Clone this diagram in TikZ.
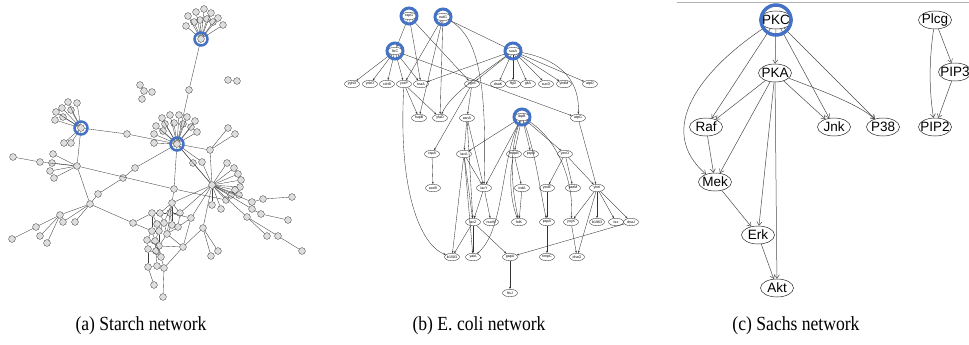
\documentclass[tikz,border=0pt]{standalone}
\usepackage{graphicx}
\usepackage{fontspec}
\setmainfont{Liberation Serif}
\newfontfamily\sachsfont{Liberation Sans}
\usetikzlibrary{shapes.geometric,arrows.meta}
\definecolor{ringblue}{RGB}{68,114,196}
\newcommand{\capbox}[1]{\scalebox{0.88}[1]{#1}}
\begin{document}
\begin{tikzpicture}[x=1pt,y=-1pt,
  sn/.style={circle,draw=black!75,fill=black!13,line width=0.35pt,minimum size=6.8pt,inner sep=0pt},
  sedge/.style={draw=black!75,line width=0.35pt},
  aring/.style={circle,draw=ringblue,line width=2.5pt,minimum size=13pt,inner sep=0pt},
  en/.style={ellipse,draw=black!80,line width=0.35pt,minimum width=15pt,minimum height=7.5pt,inner sep=0pt,
    label={[font=\sachsfont\fontsize{3.6}{4}\selectfont,inner sep=0pt]center:#1}},
  eedge/.style={draw=black!80,line width=0.35pt,-{Stealth[length=2.4pt,width=1.8pt]}},
  ering/.style={circle,draw=ringblue,line width=3pt,minimum size=16pt,inner sep=0pt},
  sa/.style={ellipse,draw=black!85,line width=0.5pt,minimum width=33pt,minimum height=18pt,inner sep=0pt,
    label={[font=\sachsfont\fontsize{13.5}{14}\selectfont,inner sep=0pt]center:#1}},
  sarrow/.style={draw=black!70,line width=0.5pt,-{Straight Barb[length=3.5pt,width=5pt]}},
  sring/.style={circle,draw=ringblue,line width=3.5pt,minimum size=30pt,inner sep=0pt},
  capt/.style={font=\fontsize{20}{22}\selectfont,inner sep=0pt}
]
\useasboundingbox (0,0) rectangle (969,345);

% ---------------- (a) Starch network ----------------
\foreach \n/\x/\y in {
 t0/201/39, t1/188/16, t2/196/12, t3/204/9, t4/211/13, t5/218/18, t6/223/25, t7/194/22, t8/200/20, t9/207/19, t10/213/22, t11/186/26,
 m1/189/90, u0/177/144,
 u1/162/118, u2/170/115, u3/179/115, u4/187/117, u5/195/121, u6/156/126, u7/165/124, u8/174/123, u9/183/124, u10/191/127, u11/197/132, u12/154/134, u13/154/143, u14/163/131,
 m2/127/134, v0/81/128,
 v1/68/102, v2/77/103, v3/62/108, v4/71/110, v5/56/112, v6/63/117, v7/55/120, v8/64/143, v9/71/143,
 w0/77/166, w1/40/162, w2/13/157, w3/53/154, w4/52/163, w5/50/171, w6/54/178,
 x0/90/204, x1/60/215, x2/36/227, x3/12/239, x4/40/236, x5/47/243, x6/63/222, x7/75/222,
 y1/98/194, y2/123/178, y3/135/168, n3/133/223, d1/174/189,
 m3/210/150, m4/228/128, m5/235/134,
 z0/212/185, z1/227/163, z2/234/168, z3/238/174, z4/241/180, z5/240/187, z6/235/190, z7/231/195, z8/239/195, z9/193/163, z10/202/162, z11/212/205, z12/221/209, z13/226/200,
 r1/252/202, r2/263/199, r3/292/197, r4/252/209, r5/261/214, r6/288/220, r7/247/217, r8/267/236, r9/278/236, r10/302/251,
 q0/203/228, q1/211/256, q2/218/251,
 c1/172/203, c2/152/213, c3/160/213, c4/170/213, c5/180/213, c6/191/218, c7/157/224, c8/164/223, c9/172/225, c10/178/227,
 c11/152/231, c12/159/231, c13/167/234, c14/147/240, c15/155/241, c16/159/246, c17/148/249, c18/156/251, c19/161/257,
 c20/148/267, c21/157/266, c22/164/268, c23/154/285, c24/163/297, c25/183/247,
 i1/228/80, i2/237/81, k0/144/91, k1/140/85, k2/152/92, k3/142/99}
 \node[sn] (\n) at (\x,\y) {};

\foreach \a/\b in {
 t0/t1, t0/t2, t0/t3, t0/t4, t0/t5, t0/t6, t0/t7, t0/t8, t0/t9, t0/t10, t0/t11, t0/m1, m1/u0,
 u0/u1, u0/u2, u0/u3, u0/u4, u0/u5, u0/u6, u0/u7, u0/u8, u0/u9, u0/u10, u0/u11, u0/u12, u0/u13, u0/u14,
 v0/v1, v0/v2, v0/v3, v0/v4, v0/v5, v0/v6, v0/v7, v0/v8, v0/v9, v0/m2, m2/u0, v0/w0,
 w0/w1, w1/w2, w0/w3, w0/w4, w0/w5, w0/w6, w0/d1, d1/z13, u0/d1, d1/c1,
 w0/x0, x0/x1, x1/x2, x2/x3, x1/x4, x1/x5, x0/x6, x0/x7, x0/y1, y1/y2, y2/y3, y3/u0, x0/n3, n3/c2, n3/c11,
 u0/m3, m3/m4, m3/m5, m3/z0, u0/z9, z9/z0, u0/z10, z10/z0, u0/z0,
 z0/z1, z0/z2, z0/z3, z0/z4, z0/z5, z0/z6, z0/z7, z0/z8, z0/z11, z0/z12, z0/z13,
 z0/r1, r1/r2, r2/r3, z0/r4, r4/r5, r5/r6, z0/r7, r7/r8, r7/r9, r9/r10,
 z0/q0, q0/q1, q0/q2, q0/c25, z0/c6, z0/c5, z0/c1,
 c1/c3, c1/c4, c1/c5, c1/c8, c1/c9, c1/c13, c2/c3, c2/c7, c2/c11, c3/c8, c3/c4, c4/c9, c4/c6, c4/c5,
 c5/c10, c6/c10, c6/c25, c7/c8, c7/c12, c8/c12, c8/c13, c9/c13, c9/c10, c10/c13, c11/c12, c11/c14,
 c11/c15, c12/c15, c12/c16, c13/c16, c13/c25, c14/c15, c14/c17, c14/c16, c15/c18, c15/c19, c16/c18,
 c16/c19, c16/c25, c17/c20, c17/c19, c18/c21, c19/c22, c20/c21, c20/c23, c21/c22, c22/c24, c25/c22,
 i1/i2, k0/k1, k0/k2, k0/k3}
 \draw[sedge] (\a) -- (\b);

\node[aring] (ra1) at (t0) {};
\node[aring] (ra2) at (u0) {};
\node[aring] (ra3) at (v0) {};

% ---------------- (b) E. coli network ----------------
\foreach \n/\x/\y/\t in {
 eh1/409/16/cspG, eh2/443/17/eutG, eh3/395/51/fixC, eh4/513/51/sucA, eh5/522/117/ibpB,
 e2a/352/84/yghD, e2b/370/84/ycbO, e2c/387/84/cchB, e2d/404/84/yceP, e2e/421/84/tnaA, e2f/472/84/ygcE,
 e2g/498/84/dnaK, e2h/513/84/flgD, e2i/528/84/gltA, e2j/546/84/sucD, e2k/564/84/yhdM, e2l/590/84/atpD,
 e3a/419/118/hupB, e3b/440/118/yfaD, e3c/467/118/asnA, e3d/578/118/atpG,
 e4a/432/154/cspA, e4b/464/154/lacA, e4c/514/154/mopB, e4d/531/154/pspB, e4e/565/154/yecO,
 e5a/433/188/aceB, e5b/484/188/lacY, e5c/522/188/icdA, e5d/547/188/yedE, e5e/573/188/yaeM, e5f/597/188/yheI,
 e6a/473/222/lacZ, e6b/491/222/nuoM, e6c/519/222/folK, e6d/547/222/pspA, e6e/571/222/ycgX, e6f/597/222/b1963,
 e6g/616/222/tsx, e6h/631/222/dnaJ,
 e7a/452/257/b1583, e7b/473/257/yaiA, e7c/510/257/gapA, e7d/547/257/nmpC, e7e/577/257/dnaG,
 e8/510/293/ftsJ}
 \node[en=\t] (\n) at (\x,\y) {};

\foreach \a/\b in {
 eh1/eh3, eh1/e2e, eh1/e2f, eh2/e2d, eh2/e3a, eh2/e3b, eh2/eh4,
 eh3/e2a, eh3/e2b, eh3/e2c, eh3/e2d, eh3/e2e, eh3/e3d,
 eh4/e2e, eh4/e2f, eh4/e2g, eh4/e2h, eh4/e2i, eh4/e2j, eh4/e2k, eh4/e2l,
 e2d/e3a, e2d/e3b, e2f/e3c, e2f/e4a, e3c/e4b, e3c/e5b, e3c/e6a,
 eh5/e4b, eh5/e5b, eh5/e4c, eh5/e4d, eh5/e4e,
 e4a/e5a, e4b/e5b, e4b/e6a, e4b/e7a, e4b/e7b, e5b/e6a, e5b/e6b, e6a/e7a, e6a/e7b, e6a/e7c,
 e4c/e5c, e5c/e6c, e4e/e5d, e4e/e5e, e4e/e5f, e5d/e6d, e3d/e5f,
 e5f/e6e, e5f/e6f, e5f/e6g, e5f/e6h, e5f/e7e, e6e/e7e, e6d/e7d, e6h/e7c, e7c/e8}
 \draw[eedge] (\a) -- (\b);

\draw[eedge] (eh2) .. controls (478,35) and (487,80) .. (e5b);
\draw[eedge] (eh4) .. controls (480,75) and (450,95) .. (e3b);
\draw[eedge] (eh4) .. controls (565,60) and (580,85) .. (e3d);
\draw[eedge] (e2d) .. controls (398,190) and (420,245) .. (e7a);
\draw[eedge] (eh5) .. controls (500,160) and (505,230) .. (e7b);
\draw[eedge] (eh5) .. controls (508,150) and (512,190) .. (e6c);
\draw[eedge] (eh5) .. controls (535,150) and (540,190) .. (e6d);
\draw[eedge] (eh5) .. controls (560,140) and (574,185) .. (e6e);
\draw[eedge] (e4c) .. controls (508,180) and (512,205) .. (e6c);

\node[ering] (rb1) at (eh1) {};
\node[ering] (rb2) at (eh2) {};
\node[ering] (rb3) at (eh3) {};
\node[ering] (rb4) at (eh4) {};
\node[ering] (rb5) at (eh5) {};

% ---------------- (c) Sachs network ----------------
\coordinate (tl1) at (677,2);
\coordinate (tl2) at (969,2);
\draw[black!30,line width=0.8pt] (tl1) -- (tl2);

\node[sa=PKC] (pkc) at (776,20) {};
\node[sa=Plcg] (plcg) at (935,20) {};
\node[sa=PKA] (pka) at (775,73) {};
\node[sa=PIP3] (pip3) at (955,72) {};
\node[sa=Raf] (raf) at (706,127) {};
\node[sa=Jnk] (jnk) at (834,127) {};
\node[sa=P38] (p38) at (883,127) {};
\node[sa=PIP2] (pip2) at (935,127) {};
\node[sa=Mek] (mek) at (715,182) {};
\node[sa=Erk] (erk) at (758,235) {};
\node[sa=Akt] (akt) at (777,288) {};

\draw[sarrow] (pkc) -- (pka);
\draw[sarrow] (pkc) -- (raf);
\draw[sarrow] (pkc) .. controls (700,70) and (655,130) .. (mek);
\draw[sarrow] (pkc) -- (jnk);
\draw[sarrow] (pkc) -- (p38);
\draw[sarrow] (pka) -- (raf);
\draw[sarrow] (pka) -- (mek);
\draw[sarrow] (pka) -- (erk);
\draw[sarrow] (pka) -- (akt);
\draw[sarrow] (pka) -- (jnk);
\draw[sarrow] (pka) .. controls (820,90) and (860,105) .. (p38);
\draw[sarrow] (raf) -- (mek);
\draw[sarrow] (mek) -- (erk);
\draw[sarrow] (erk) -- (akt);
\draw[sarrow] (plcg) -- (pip3);
\draw[sarrow] (plcg) .. controls (929,60) and (929,90) .. (pip2);
\draw[sarrow] (pip3) -- (pip2);

\node[sring] (rc1) at (pkc) {};

% ---------------- captions ----------------
\node[capt] (capa) at (141,326) {\capbox{(a) Starch network}};
\node[capt] (capb) at (479,326) {\capbox{(b) E. coli network}};
\node[capt] (capc) at (796,326) {\capbox{(c) Sachs network}};
\end{tikzpicture}
\end{document}
